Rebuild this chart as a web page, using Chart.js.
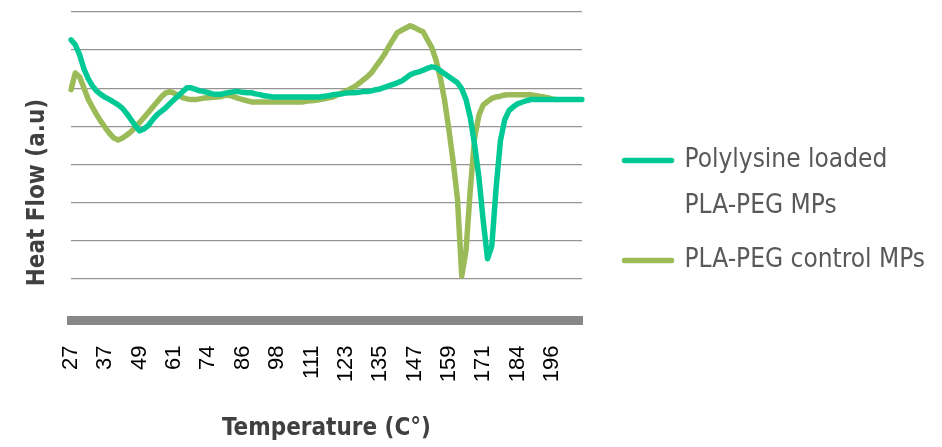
<!DOCTYPE html>
<html>
<head>
<meta charset="utf-8">
<script src="https://cdn.jsdelivr.net/npm/chart.js@4/dist/chart.umd.min.js"></script>
<style>
  html, body { margin: 0; padding: 0; background: #fff; }
  #wrap { width: 942px; height: 447px; }
</style>
</head>
<body>
<div id="wrap"><canvas id="dsc"></canvas></div>
<script>
// temperature labels shown on the category axis, one every 8 samples
const tempTicks = [27, 37, 49, 61, 74, 86, 98, 111, 123, 135, 147, 159, 171, 184, 196];
const ptsPerTick = 8;

// heat flow (a.u)
const polylysine = [
  7.27, 7.14, 6.88, 6.51, 6.25, 6.06, 5.92, 5.83, 5.76, 5.70,
  5.63, 5.56, 5.47, 5.33, 5.17, 5.01, 4.88, 4.93, 5.02, 5.17,
  5.30, 5.39, 5.48, 5.59, 5.70, 5.80, 5.91, 6.01, 6.01, 5.97,
  5.93, 5.91, 5.88, 5.85, 5.84, 5.84, 5.87, 5.89, 5.91, 5.91,
  5.89, 5.88, 5.88, 5.85, 5.83, 5.80, 5.79, 5.77, 5.77, 5.77,
  5.77, 5.77, 5.77, 5.77, 5.77, 5.77, 5.77, 5.77, 5.77, 5.79,
  5.80, 5.83, 5.84, 5.85, 5.87, 5.88, 5.88, 5.89, 5.91, 5.91,
  5.93, 5.96, 5.98, 6.02, 6.06, 6.10, 6.14, 6.19, 6.27, 6.35,
  6.40, 6.43, 6.47, 6.52, 6.56, 6.54, 6.46, 6.38, 6.30, 6.22,
  6.14, 5.98, 5.70, 5.22, 4.51, 3.65, 2.52, 1.52, 1.86, 3.38,
  4.62, 5.17, 5.41, 5.51, 5.59, 5.63, 5.67, 5.70, 5.70, 5.70,
  5.70, 5.70, 5.70, 5.70, 5.70, 5.70, 5.70, 5.70, 5.70, 5.70,
];
const control = [
  5.96, 6.40, 6.30, 6.01, 5.71, 5.50, 5.30, 5.12, 4.96, 4.81,
  4.69, 4.64, 4.69, 4.77, 4.86, 4.98, 5.10, 5.23, 5.36, 5.50,
  5.63, 5.77, 5.87, 5.91, 5.87, 5.81, 5.75, 5.72, 5.70, 5.70,
  5.72, 5.74, 5.75, 5.76, 5.77, 5.78, 5.82, 5.81, 5.77, 5.73,
  5.70, 5.67, 5.64, 5.64, 5.64, 5.64, 5.64, 5.64, 5.64, 5.64,
  5.64, 5.64, 5.64, 5.64, 5.64, 5.66, 5.67, 5.68, 5.70, 5.72,
  5.75, 5.77, 5.82, 5.87, 5.92, 5.98, 6.04, 6.12, 6.21, 6.30,
  6.41, 6.57, 6.72, 6.89, 7.09, 7.28, 7.46, 7.52, 7.58, 7.64,
  7.59, 7.53, 7.48, 7.27, 7.07, 6.74, 6.28, 5.68, 4.91, 4.07,
  3.09, 1.07, 1.75, 3.36, 4.70, 5.29, 5.56, 5.65, 5.73, 5.77,
  5.79, 5.82, 5.83, 5.83, 5.83, 5.83, 5.83, 5.83, 5.81, 5.79,
  5.77, 5.75, 5.72, 5.70, null, null, null, null, null, null,
];

const seriesNames = ["Polylysine loaded\nPLA-PEG MPs", "PLA-PEG control MPs"];
const gridValues = [0, 1, 2, 3, 4, 5, 6, 7, 8];

const narrow = "'DejaVu Sans Condensed', 'Liberation Sans Narrow', sans-serif";
const labels = polylysine.map((v, i) =>
  i % ptsPerTick === 0 && tempTicks[i / ptsPerTick] !== undefined ? String(tempTicks[i / ptsPerTick]) : ""
);

new Chart(document.getElementById("dsc"), {
  type: "line",
  data: {
    labels: labels,
    datasets: [
      { label: seriesNames[0], data: polylysine, borderColor: "#00C995", backgroundColor: "#00C995" },
      { label: seriesNames[1], data: control, borderColor: "#9BBB59", backgroundColor: "#9BBB59" },
    ],
  },
  options: {
    responsive: true,
    maintainAspectRatio: false,
    animation: false,
    layout: { padding: { top: 12, right: 7 } },
    elements: {
      line: { borderWidth: 5.5, tension: 0, borderCapStyle: "round", borderJoinStyle: "round" },
      point: { radius: 0, hoverRadius: 0 },
    },
    plugins: {
      tooltip: { enabled: false },
      legend: {
        position: "right",
        align: "start",
        maxWidth: 420,
        title: { display: true, text: "", padding: { top: 113, bottom: 0 }, font: { size: 12 } },
        labels: {
          boxWidth: 47,
          boxHeight: 0,
          padding: 8,
          color: "#595959",
          font: { family: narrow, size: 26, lineHeight: 1.77 },
          generateLabels: (chart) =>
            Chart.defaults.plugins.legend.labels.generateLabels(chart).map((it) => ({ ...it, text: it.text.split("\n") })),
        },
      },
    },
    scales: {
      x: {
        grid: { display: false },
        border: { display: true, color: "#878787", width: 9 },
        ticks: {
          autoSkip: false,
          minRotation: 90,
          maxRotation: 90,
          padding: 17,
          color: "#000",
          font: { family: "'Liberation Sans', Arial, sans-serif", size: 22 },
        },
        title: {
          display: true,
          text: "Temperature (C°)",
          color: "#404040",
          font: { family: narrow, size: 24, weight: "bold" },
          padding: { top: 0, bottom: 4 },
        },
        afterFit: (s) => { s.height = 126.5; },
      },
      y: {
        min: -0.1,
        max: 8,
        afterBuildTicks: (s) => { s.ticks = gridValues.map((v) => ({ value: v })); },
        grid: { color: "#959595", lineWidth: 1.2, drawTicks: false },
        border: { display: false },
        ticks: { display: false },
        title: {
          display: true,
          text: "Heat Flow (a.u)       ",
          color: "#404040",
          font: { family: narrow, size: 24, weight: "bold" },
          padding: { top: 23, bottom: 0 },
        },
        afterFit: (s) => { s.width = 71; },
      },
      gap: {
        type: "linear",
        position: "right",
        grid: { display: false },
        border: { display: false },
        ticks: { display: false },
        afterFit: (s) => { s.width = Math.max(0, s.chart.width - 7 - s.chart.legend.width - 582); },
      },
    },
  },
});
</script>
</body>
</html>
